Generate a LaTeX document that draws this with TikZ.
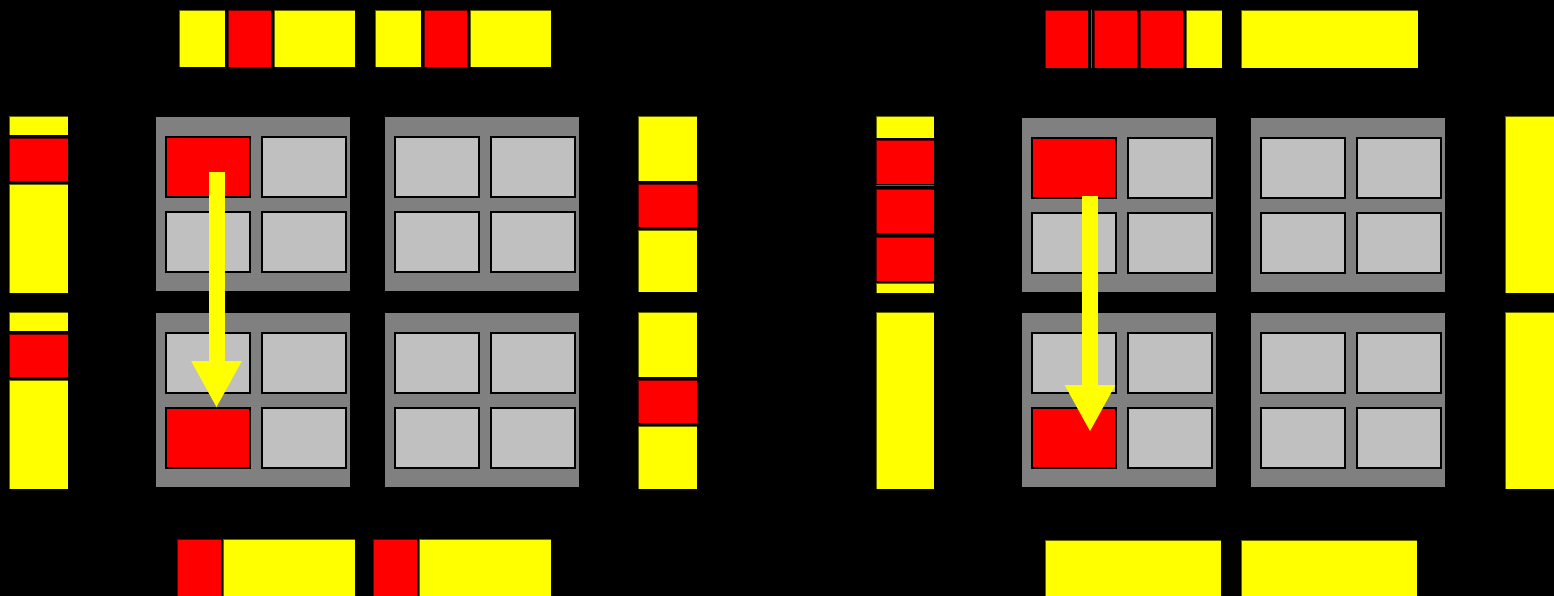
\documentclass[tikz,border=0pt]{standalone}
\usetikzlibrary{arrows.meta}
\definecolor{ylw}{RGB}{255,255,0}
\definecolor{rd}{RGB}{255,0,0}
\definecolor{pnl}{RGB}{128,128,128}
\definecolor{cel}{RGB}{192,192,192}
\tikzset{
 seg/.style={draw=black,draw opacity=0.6,line width=0.8pt,inner sep=0pt,outer sep=0pt,anchor=north west},
 yseg/.style={seg,fill=ylw},
 rseg/.style={seg,fill=rd},
 panelbox/.style={fill=pnl,draw=none,inner sep=0pt,outer sep=0pt,anchor=north west},
 cellbox/.style={fill=cel,draw=black,line width=2pt,inner sep=0pt,outer sep=0pt,anchor=north west},
 redcell/.style={cellbox,fill=rd},
 bigarrow/.style={draw=ylw,line width=16pt,-{Triangle[width=47pt,length=47pt]}}
}
% style, name, x1, y1, x2, y2 (pixel coordinates, y downward)
\newcommand\bx[6]{\node[#1,minimum width={(#5)-(#3)},minimum height={(#6)-(#4)}] (#2) at ({#3},{-(#4)}) {};}
% name, x, y, styles of the four cells
\newcommand\panelgrid[7]{%
 \bx{panelbox}{#1}{#2}{#3}{#2+194}{#3+174}
 \bx{#4}{#1a}{#2+10}{#3+20}{#2+94}{#3+80}
 \bx{#5}{#1b}{#2+106}{#3+20}{#2+190}{#3+80}
 \bx{#6}{#1c}{#2+10}{#3+95}{#2+94}{#3+155}
 \bx{#7}{#1d}{#2+106}{#3+95}{#2+190}{#3+155}
}
\begin{document}
\begin{tikzpicture}[x=1pt,y=1pt]
\fill[black] (0,0) rectangle (1554,-596);
\useasboundingbox (0,0) rectangle (1554,-596);
\clip (0,0) rectangle (1554,-596);

% ===== left diagram =====
% top row
\bx{yseg}{t1}{179}{10}{225}{67}
\bx{rseg}{t2}{228}{10}{271}{67}
\bx{yseg}{t3}{274}{10}{355}{67}
\bx{yseg}{t4}{375}{10}{421}{67}
\bx{rseg}{t5}{424}{10}{467}{67}
\bx{yseg}{t6}{470}{10}{551}{67}
% left column
\bx{yseg}{l1}{9}{116}{68}{135}
\bx{rseg}{l2}{9}{138}{68}{181}
\bx{yseg}{l3}{9}{184}{68}{293}
\bx{yseg}{l4}{9}{312}{68}{331}
\bx{rseg}{l5}{9}{334}{68}{377}
\bx{yseg}{l6}{9}{380}{68}{489}
% right column
\bx{yseg}{r1}{638}{116}{697}{181}
\bx{rseg}{r2}{638}{184}{697}{227}
\bx{yseg}{r3}{638}{230}{697}{292}
\bx{yseg}{r4}{638}{312}{697}{377}
\bx{rseg}{r5}{638}{380}{697}{423}
\bx{yseg}{r6}{638}{426}{697}{489}
% bottom row
\bx{rseg}{b1}{177}{539}{221}{600}
\bx{yseg}{b2}{223}{539}{355}{600}
\bx{rseg}{b3}{373}{539}{417}{600}
\bx{yseg}{b4}{419}{539}{551}{600}
% panels
\panelgrid{pA}{156}{117}{redcell}{cellbox}{cellbox}{cellbox}
\panelgrid{pB}{385}{117}{cellbox}{cellbox}{cellbox}{cellbox}
\panelgrid{pC}{156}{313}{cellbox}{cellbox}{redcell}{cellbox}
\panelgrid{pD}{385}{313}{cellbox}{cellbox}{cellbox}{cellbox}
\coordinate (a1s) at (216.5,-172);
\coordinate (a1e) at (216.5,-408);
\draw[bigarrow] (a1s) -- (a1e);

% ===== right diagram =====
% top row
\bx{rseg}{u1}{1045}{10}{1088}{68}
\bx{yseg}{u2}{1090.5}{10}{1091.5}{68}
\bx{rseg}{u3}{1094}{10}{1137}{68}
\bx{rseg}{u4}{1140}{10}{1183}{68}
\bx{yseg}{u5}{1186}{10}{1222}{68}
\bx{yseg}{u6}{1241}{10}{1418}{68}
% left column
\bx{yseg}{m1}{876}{116}{934}{138}
\bx{rseg}{m2}{876}{140}{934}{184}
\bx{yseg}{m3}{876}{185.5}{934}{186.5}
\bx{rseg}{m4}{876}{189}{934}{233}
\bx{rseg}{m5}{876}{237}{934}{281}
\bx{yseg}{m6}{876}{283}{934}{293}
\bx{yseg}{m7}{876}{312}{934}{489}
% right column
\bx{yseg}{n1}{1505}{116}{1570}{293}
\bx{yseg}{n2}{1505}{312}{1570}{489}
% bottom row
\bx{yseg}{v1}{1045}{540}{1221}{600}
\bx{yseg}{v2}{1241}{540}{1417}{600}
% panels
\panelgrid{pE}{1022}{118}{redcell}{cellbox}{cellbox}{cellbox}
\panelgrid{pF}{1251}{118}{cellbox}{cellbox}{cellbox}{cellbox}
\panelgrid{pG}{1022}{313}{cellbox}{cellbox}{redcell}{cellbox}
\panelgrid{pH}{1251}{313}{cellbox}{cellbox}{cellbox}{cellbox}
\coordinate (a2s) at (1090,-196);
\coordinate (a2e) at (1090,-432);
\draw[bigarrow] (a2s) -- (a2e);
\end{tikzpicture}
\end{document}
